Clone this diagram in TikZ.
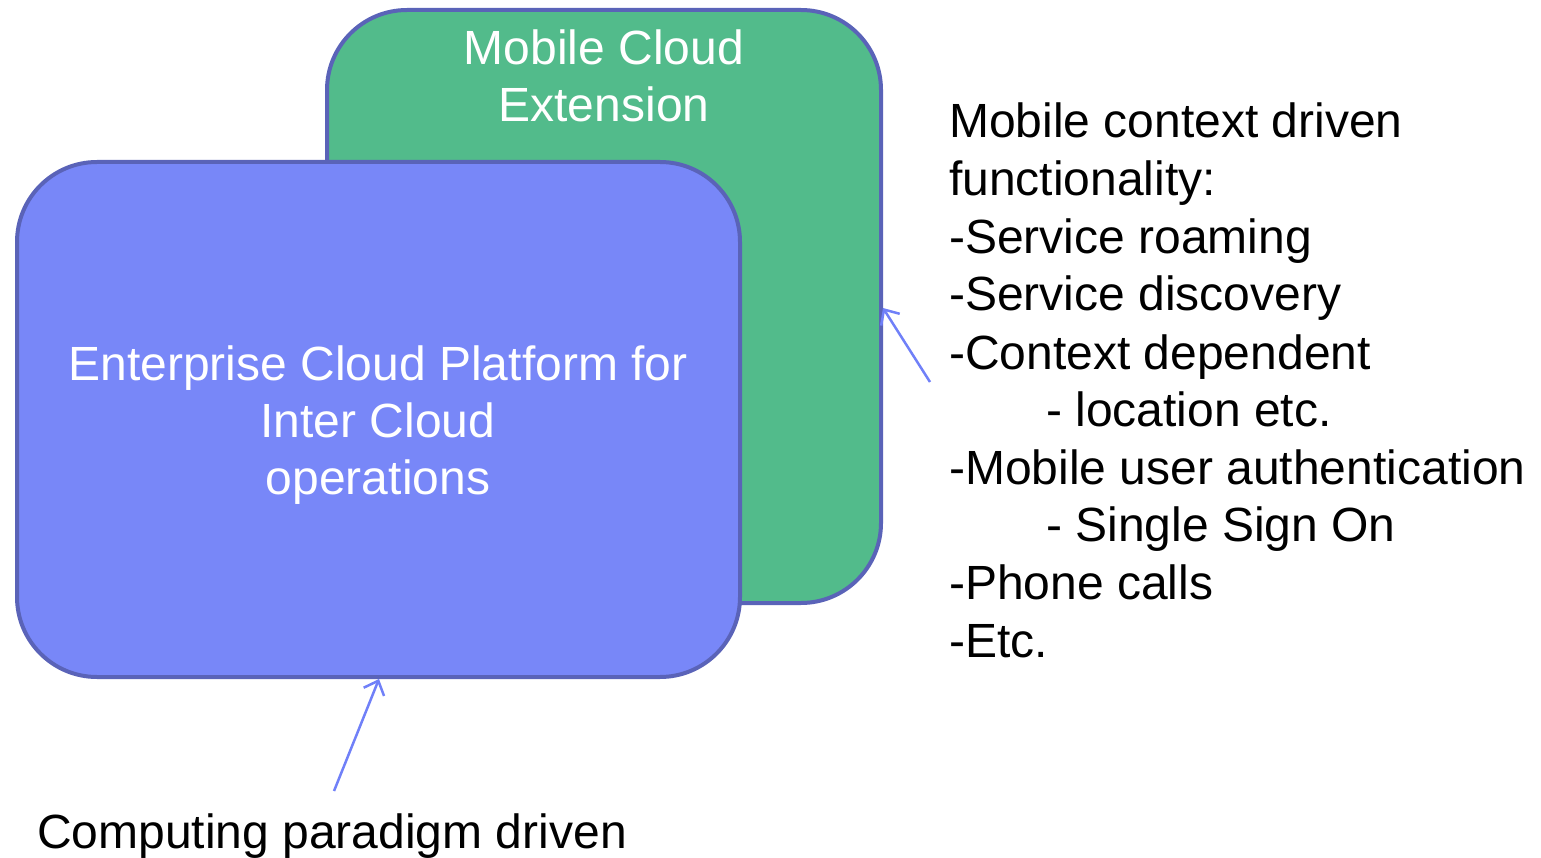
\documentclass[tikz,border=0pt]{standalone}
\usepackage{fontspec}
\setmainfont{Liberation Sans}
\usetikzlibrary{arrows.meta}
\definecolor{boxgreen}{HTML}{52BB8B}
\definecolor{boxblue}{HTML}{7887F8}
\definecolor{boxedge}{HTML}{5A63B8}
\definecolor{arrowblue}{HTML}{7080F8}
\tikzset{
  panel/.style={draw=boxedge, line width=4pt, rounded corners=80pt, inner sep=0pt},
  boxtext/.style={text=white, anchor=base, inner sep=0pt, font=\fontsize{48}{57}\selectfont},
  sidetext/.style={text=black, anchor=base west, inner sep=0pt, font=\fontsize{48}{57}\selectfont},
  pointer/.style={draw=arrowblue, line width=2.5pt, -{Straight Barb[length=12pt,width=22pt,line width=2.5pt]}}
}
\begin{document}
\begin{tikzpicture}[x=1pt,y=-1pt]
\useasboundingbox (0,0) rectangle (1541,858);
\node[panel, fill=boxgreen, minimum width=554pt, minimum height=593pt] (green) at (604,306.5) {};
\node[boxtext] (g1) at (604,65) {Mobile Cloud};
\node[boxtext] (g2) at (604,122) {Extension};
\node[panel, fill=boxblue, minimum width=723pt, minimum height=515pt] (blue) at (378.5,419.5) {};
\node[boxtext] (b1) at (378,380) {Enterprise Cloud Platform for};
\node[boxtext] (b2) at (378,437) {Inter Cloud};
\node[boxtext] (b3) at (378,494) {operations};
\node[sidetext] (r1) at (949,138) {Mobile context driven};
\node[sidetext] (r2) at (949,196) {functionality:};
\node[sidetext] (r3) at (949,254) {-Service roaming};
\node[sidetext] (r4) at (949,311) {-Service discovery};
\node[sidetext] (r5) at (949,369) {-Context dependent};
\node[sidetext] (r6) at (1046,426) {- location etc.};
\node[sidetext] (r7) at (949,484) {-Mobile user authentication};
\node[sidetext] (r8) at (1046,541) {- Single Sign On};
\node[sidetext] (r9) at (949,599) {-Phone calls};
\node[sidetext] (r10) at (949,657) {-Etc.};
\node[sidetext] (c1) at (37,848) {Computing paradigm driven};
\coordinate (rs) at (930,382);
\coordinate (re) at (883,308);
\coordinate (bs) at (334,791);
\coordinate (be) at (379,679);
\draw[pointer] (rs) -- (re);
\draw[pointer] (bs) -- (be);
\end{tikzpicture}
\end{document}
